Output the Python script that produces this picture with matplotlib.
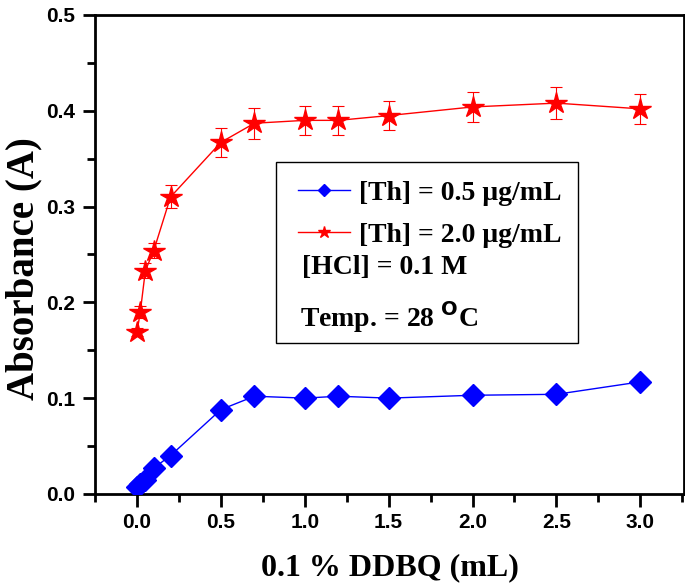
import matplotlib
matplotlib.use("Agg")
import matplotlib.pyplot as plt
from matplotlib.patches import Rectangle
from matplotlib.ticker import MultipleLocator, FormatStrFormatter

x = [0.0, 0.02, 0.05, 0.1, 0.2, 0.5, 0.7, 1.0, 1.2, 1.5, 2.0, 2.5, 3.0]
blue_y = [0.007, 0.010, 0.015, 0.027, 0.040, 0.088, 0.102, 0.100, 0.102, 0.100, 0.103, 0.104, 0.117]
red_y = [0.169, 0.190, 0.233, 0.254, 0.310, 0.367, 0.387, 0.390, 0.390, 0.395, 0.404, 0.408, 0.402]
red_err = [0.004, 0.006, 0.008, 0.008, 0.012, 0.015, 0.016, 0.015, 0.015, 0.015, 0.016, 0.017, 0.016]

label_blue = "[Th] = 0.5 μg/mL"
label_red = "[Th] = 2.0 μg/mL"
note1 = "[HCl] = 0.1 M"
note2 = r"Temp. = 28 $^{\mathbf{O}}$C"

serif = "Liberation Serif"
sans = "Liberation Sans"

fig = plt.figure(figsize=(6.85, 5.88), dpi=100)
ax = fig.add_axes([0.1387, 0.16, 0.8598, 0.8145])

red = ax.errorbar(x, red_y, yerr=red_err, color="red", lw=1, marker="*", ms=16,
                  capsize=4, elinewidth=0.8, capthick=0.8, zorder=3)
blue, = ax.plot(x, blue_y, color="blue", lw=1, marker="D", ms=11, zorder=3)

ax.set_xlim(-0.25, 3.26)
ax.set_ylim(0, 0.5)
ax.xaxis.set_major_locator(MultipleLocator(0.5))
ax.xaxis.set_minor_locator(MultipleLocator(0.25))
ax.yaxis.set_major_locator(MultipleLocator(0.1))
ax.yaxis.set_minor_locator(MultipleLocator(0.05))
ax.xaxis.set_major_formatter(FormatStrFormatter("%.1f"))
ax.yaxis.set_major_formatter(FormatStrFormatter("%.1f"))
ax.tick_params(which="major", direction="out", length=9, width=2, top=False, right=False, pad=5)
ax.tick_params(which="minor", direction="out", length=6, width=2, top=False, right=False)
for lab in ax.get_xticklabels() + ax.get_yticklabels():
    lab.set_fontfamily(sans)
    lab.set_fontweight("bold")
    lab.set_fontsize(15)
for s in ax.spines.values():
    s.set_linewidth(2)

ax.set_xlabel("0.1 % DDBQ (mL)", fontfamily=serif, fontweight="bold", fontsize=23, labelpad=15)
ax.set_ylabel("Absorbance (A)", fontfamily=serif, fontweight="bold", fontsize=28)
ax.yaxis.set_label_coords(-0.089, 0.47)

leg = ax.legend([blue, red[0]], [label_blue, label_red], loc="upper left",
                bbox_to_anchor=(0.345, 0.655), frameon=False, handlelength=1.85,
                handletextpad=0.35, borderaxespad=0, borderpad=0, labelspacing=0.6,
                prop={"family": serif, "weight": "bold", "size": 20}, markerscale=0.55)

ax.text(0.351, 0.472, note1, transform=ax.transAxes, fontfamily=serif, fontweight="bold",
        fontsize=20, va="center", ha="left")
ax.text(0.348, 0.370, note2, transform=ax.transAxes, fontfamily=serif, fontweight="bold",
        fontsize=20, va="center", ha="left")
ax.add_patch(Rectangle((0.307, 0.315), 0.513, 0.378, transform=ax.transAxes,
                       fill=False, edgecolor="black", lw=1, zorder=5))

fig.savefig("out.png", dpi=100)
